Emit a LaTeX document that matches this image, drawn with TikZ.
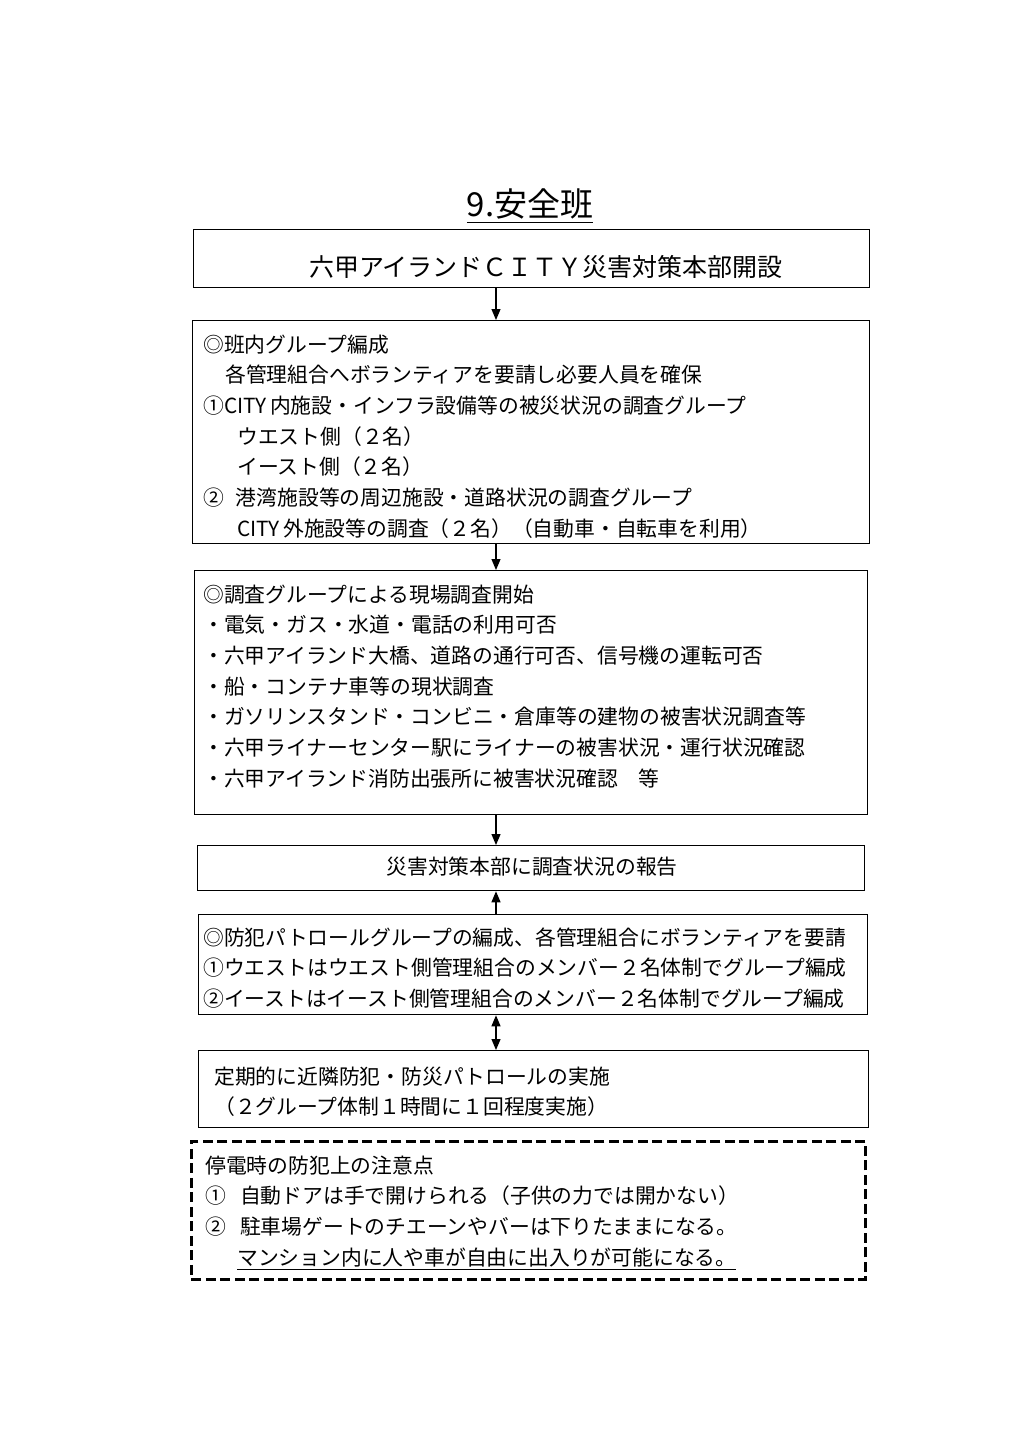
\documentclass[tikz,border=0pt]{standalone}
\usepackage{fontspec}
\setmainfont{Noto Sans CJK JP}
\usetikzlibrary{arrows.meta}
\newcommand\jst{\rule[-0.12em]{0pt}{1em}}
\tikzset{
  box/.style={draw, line width=1.3pt, inner sep=0pt, anchor=north west},
  dbox/.style={draw, line width=2.8pt, dash pattern=on 10pt off 4.5pt, inner sep=0pt, anchor=north west},
  txt/.style={inner sep=0pt, align=left, anchor=north west, font=\fontsize{20.8}{30.7}\selectfont},
  arr/.style={line width=1.2pt, -{Triangle[length=11pt,width=9pt]}},
  darr/.style={line width=1.2pt, {Triangle[length=11pt,width=9pt]}-{Triangle[length=11pt,width=9pt]}},
}
\begin{document}
\begin{tikzpicture}[x=1pt,y=-1pt]
\useasboundingbox[fill=white] (0,0) rectangle (1024,1449);
% title
\node[inner sep=0pt, font=\fontsize{33}{33}\selectfont] (title) at (530,205) {\underline{\jst 9.安全班}};
% boxes
\node[box, minimum width=676pt, minimum height=58pt] (b1) at (193,229) {};
\node[box, minimum width=677pt, minimum height=223pt] (b2) at (192,320) {};
\node[box, minimum width=673pt, minimum height=244pt] (b3) at (194,570) {};
\node[box, minimum width=667pt, minimum height=45pt] (b4) at (197,845) {};
\node[box, minimum width=669pt, minimum height=100pt] (b5) at (198,914) {};
\node[box, minimum width=670pt, minimum height=77pt] (b6) at (198,1050) {};
\node[dbox, minimum width=674pt, minimum height=138pt] (b7) at (190,1140) {};
% texts
\node[inner sep=0pt, font=\fontsize{25}{25}\selectfont] (t1) at (546,267) {\jst 六甲アイランドＣＩＴＹ災害対策本部開設};
\node[txt] (t2) at (203,333.6) {\jst ◎班内グループ編成\\
\jst\hspace*{22pt}各管理組合へボランティアを要請し必要人員を確保\\
\jst ①CITY\,内施設・インフラ設備等の被災状況の調査グループ\\
\jst\hspace*{34pt}ウエスト側（２名）\\
\jst\hspace*{34pt}イースト側（２名）\\
\jst ②\hspace*{12pt}港湾施設等の周辺施設・道路状況の調査グループ\\
\jst\hspace*{34pt}CITY\,外施設等の調査（２名）（自動車・自転車を利用）};
\node[txt] (t3) at (203,583.6) {\jst ◎調査グループによる現場調査開始\\
\jst・電気・ガス・水道・電話の利用可否\\
\jst・六甲アイランド大橋、道路の通行可否、信号機の運転可否\\
\jst・船・コンテナ車等の現状調査\\
\jst・ガソリンスタンド・コンビニ・倉庫等の建物の被害状況調査等\\
\jst・六甲ライナーセンター駅にライナーの被害状況・運行状況確認\\
\jst・六甲アイランド消防出張所に被害状況確認\hspace*{20pt}等};
\node[inner sep=0pt, font=\fontsize{20.8}{20.8}\selectfont] (t4) at (532,867) {\jst 災害対策本部に調査状況の報告};
\node[txt] (t5) at (203,926.6) {\jst ◎防犯パトロールグループの編成、各管理組合にボランティアを要請\\
\jst ①ウエストはウエスト側管理組合のメンバー２名体制でグループ編成\\
\jst ②イーストはイースト側管理組合のメンバー２名体制でグループ編成};
\node[txt] (t6) at (214,1065.6) {\jst 定期的に近隣防犯・防災パトロールの実施\\
\jst（２グループ体制１時間に１回程度実施）};
\node[txt] (t7) at (205,1154.6) {\jst 停電時の防犯上の注意点\\
\jst ①\hspace*{14pt}自動ドアは手で開けられる（子供の力では開かない）\\
\jst ②\hspace*{14pt}駐車場ゲートのチエーンやバーは下りたままになる。\\
\hspace*{32pt}\underline{\jst マンション内に人や車が自由に出入りが可能になる。}};
% connectors
\coordinate (ax) at (496,0);
\draw[arr] (b1.south -| ax) -- (b2.north -| ax);
\draw[arr] (b2.south -| ax) -- (b3.north -| ax);
\draw[arr] (b3.south -| ax) -- (b4.north -| ax);
\draw[arr] (b5.north -| ax) -- (b4.south -| ax);
\draw[darr] (b5.south -| ax) -- (b6.north -| ax);
\end{tikzpicture}
\end{document}
